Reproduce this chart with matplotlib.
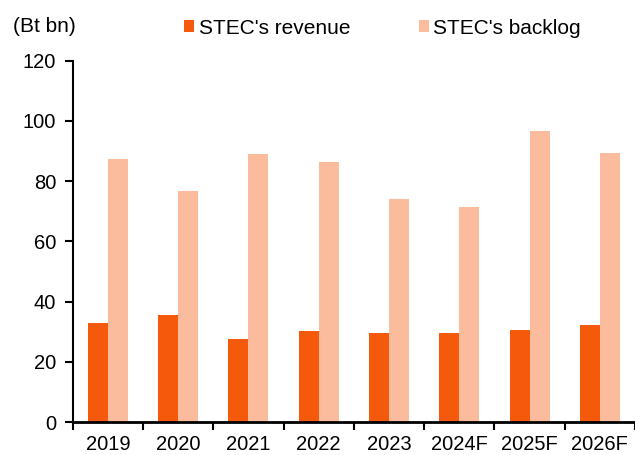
import numpy as np
import matplotlib.pyplot as plt

plt.rcParams['font.family'] = ['Liberation Sans', 'DejaVu Sans']

# data (Bt bn)
years = ["2019", "2020", "2021", "2022", "2023", "2024F", "2025F", "2026F"]
revenue = [32.9, 35.6, 27.5, 30.3, 29.6, 29.6, 30.6, 32.3]
backlog = [87.3, 76.8, 88.9, 86.3, 74.1, 71.6, 96.7, 89.3]

fig = plt.figure(figsize=(6.35, 4.55), dpi=100)
ax = fig.add_axes([0.1145, 0.072, 0.8855, 0.7945])

x = np.arange(len(years))
w = 0.285
ax.bar(x - w / 2, revenue, w, color="#F5590C", label="STEC's revenue")
ax.bar(x + w / 2, backlog, w, color="#FBBC9D", label="STEC's backlog")

ax.set_xlim(-0.5, len(years) - 0.5)
ax.set_ylim(0, 120)
ax.set_yticks(range(0, 121, 20))

# category labels centred, tick marks between categories
ax.set_xticks(x)
ax.set_xticklabels(years)
ax.tick_params(axis='x', which='major', length=0, pad=9.5, labelsize=14.5)
ax.set_xticks(np.arange(-0.5, len(years), 1), minor=True)
ax.tick_params(axis='x', which='minor', length=6, width=1.5, direction='out')
ax.tick_params(axis='y', length=6, width=1.5, pad=6, labelsize=14.5)

for s in ["top", "right"]:
    ax.spines[s].set_visible(False)
ax.spines["left"].set_linewidth(1.5)
ax.spines["bottom"].set_linewidth(2)

fig.text(13 / 635, 1 - 26 / 455, "(Bt bn)", fontsize=15, va="center", ha="left")
fig.legend(loc="center left", bbox_to_anchor=(184 / 635, 1 - 28 / 455), ncol=2,
           frameon=False, fontsize=15, handlelength=0.5, handleheight=0.5,
           handletextpad=0.2, columnspacing=3.3, borderpad=0, borderaxespad=0)

fig.savefig("out.png", dpi=100)
